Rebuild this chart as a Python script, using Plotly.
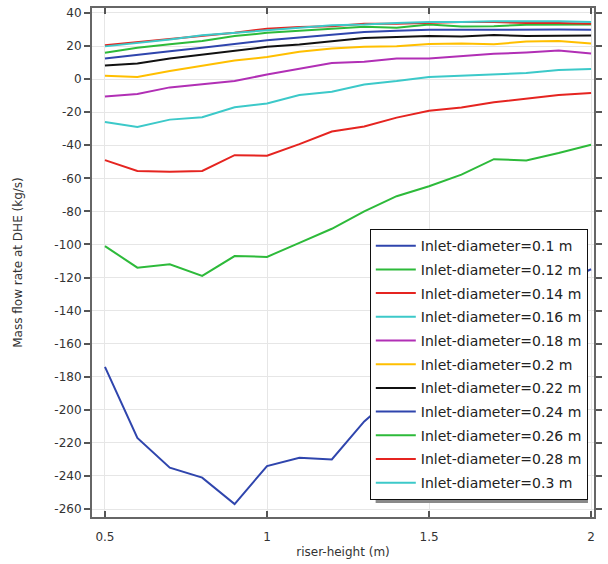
import plotly.graph_objects as go

x_vals = [0.5, 0.6, 0.7, 0.8, 0.9, 1.0, 1.1, 1.2, 1.3, 1.4, 1.5, 1.6, 1.7, 1.8, 1.9, 2.0]

d010 = [-174, -217, -235, -241, -257, -234, -229, -230, -207, -190, -174, -160, -147, -135, -124, -115]
d012 = [-101, -114, -112, -119, -107, -107.5, -99, -90.5, -80, -70.8, -64.8, -57.8, -48.4, -49.2, -44.7, -39.7]
d014 = [-49, -55.5, -56, -55.5, -46, -46.3, -39.3, -31.7, -28.7, -23.3, -19.2, -17.2, -14, -11.6, -9.6, -8.4]
d016 = [-26, -29, -24.5, -23, -17, -14.8, -9.6, -7.6, -3.2, -1.2, 1.3, 2.0, 3.1, 3.7, 5.5, 6.1]
d018 = [-10.5, -9, -5, -3, -1.2, 2.8, 6.4, 9.7, 10.5, 12.5, 12.5, 13.9, 15.3, 16.1, 17.3, 15.5]
d020 = [2, 1.3, 4.9, 7.9, 11.3, 13.3, 16.5, 18.5, 19.5, 19.9, 21.3, 21.5, 21.1, 22.7, 23.1, 21.5]
d022 = [8.2, 9.5, 12.5, 14.9, 16.9, 19.5, 20.9, 22.7, 24.9, 25.5, 26.0, 25.8, 26.6, 26.0, 26.3, 26.3]
d024 = [12.5, 14.9, 16.9, 18.9, 21.1, 23.5, 25.1, 26.9, 28.5, 29.2, 29.8, 29.8, 30.0, 29.8, 30.0, 29.8]
d026 = [15.9, 18.9, 21.1, 23.1, 26.0, 28.0, 29.2, 30.5, 31.6, 31.0, 33.0, 31.8, 32.0, 32.8, 32.8, 33.0]
d028 = [20.5, 22.3, 24.0, 26.0, 28.0, 30.5, 31.5, 32.0, 33.5, 33.5, 34.0, 34.5, 34.5, 34.0, 34.0, 33.5]
d030 = [19.8, 21.8, 24.0, 26.5, 28.0, 29.5, 31.0, 32.5, 33.0, 34.0, 34.5, 34.5, 35.0, 35.0, 35.0, 34.5]

series = [d010, d012, d014, d016, d018, d020, d022, d024, d026, d028, d030]
names = ["Inlet-diameter=0.1 m", "Inlet-diameter=0.12 m", "Inlet-diameter=0.14 m",
         "Inlet-diameter=0.16 m", "Inlet-diameter=0.18 m", "Inlet-diameter=0.2 m",
         "Inlet-diameter=0.22 m", "Inlet-diameter=0.24 m", "Inlet-diameter=0.26 m",
         "Inlet-diameter=0.28 m", "Inlet-diameter=0.3 m"]
colors = ["#2f45ad", "#2dba3a", "#e52420", "#3cc9c9", "#b12fb5", "#ffbf00",
          "#111111", "#2f45ad", "#2dba3a", "#e52420", "#3cc9c9"]

y_ticks = list(range(-260, 41, 20))
y_tick_text = [str(v) for v in y_ticks]
x_ticks = [0.5, 1, 1.5, 2]
x_tick_text = ["0.5", "1", "1.5", "2"]

fig = go.Figure()
for i, (ys, nm, c) in enumerate(zip(series, names, colors)):
    fig.add_trace(go.Scatter(x=x_vals, y=ys, mode="lines", name=nm,
                             line=dict(color=c, width=2), legendgroup=str(i)))

font = "DejaVu Sans, sans-serif"

# legend shadow (paper coords derived from plot area 92..598 x 6..517)
fig.add_shape(type="rect", xref="paper", yref="paper",
              x0=0.565, x1=0.988, y0=0.0274, y1=0.5577,
              fillcolor="#8a8a8a", line=dict(width=0), layer="above")

fig.update_layout(
    width=608, height=564,
    margin=dict(l=92, r=10, t=6, b=47),
    paper_bgcolor="white", plot_bgcolor="white",
    font=dict(family=font, size=12, color="#333333"),
    showlegend=True,
    legend=dict(x=0.5534, y=0.5656, xanchor="left", yanchor="top",
                bgcolor="white", bordercolor="#111111", borderwidth=1,
                font=dict(family=font, size=14, color="#222222"),
                tracegroupgap=2.5, itemwidth=40),
    xaxis=dict(range=[0.46, 2.009], tickvals=x_ticks, ticktext=x_tick_text,
               showgrid=True, gridcolor="#e6e6e6", gridwidth=1,
               ticks="inside", ticklen=6, tickcolor="#555555", tickwidth=2,
               showline=True, linecolor="#666666", linewidth=2, mirror="ticks",
               zeroline=False, ticklabelstandoff=8,
               title=dict(text="riser-height (m)", font=dict(size=12, color="#333333"), standoff=4),
               tickfont=dict(size=12, color="#333333")),
    yaxis=dict(range=[-264.8, 43], tickvals=y_ticks, ticktext=y_tick_text,
               showgrid=True, gridcolor="#e6e6e6", gridwidth=1,
               ticks="outside", ticklen=6, tickcolor="#555555", tickwidth=2,
               showline=True, linecolor="#666666", linewidth=2, mirror="ticks",
               zeroline=False,
               title=dict(text="Mass flow rate at DHE (kg/s)", font=dict(size=12, color="#333333"), standoff=29),
               tickfont=dict(size=12, color="#333333")),
)

fig.write_html("out.html")
